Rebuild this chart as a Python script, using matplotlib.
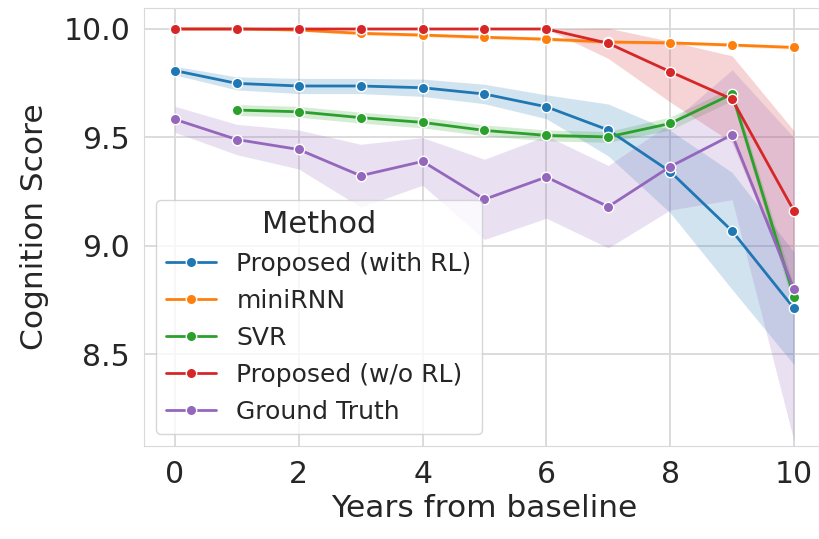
import numpy as np
import matplotlib
matplotlib.use("Agg")
import matplotlib.pyplot as plt
import seaborn as sns

# values
years = [0, 1, 2, 3, 4, 5, 6, 7, 8, 9, 10]
methods = ["Proposed (with RL)", "miniRNN", "SVR", "Proposed (w/o RL)", "Ground Truth"]

with_rl = [9.808, 9.749, 9.737, 9.737, 9.729, 9.700, 9.641, 9.534, 9.342, 9.068, 8.711]
minirnn = [10.0, 10.0, 9.995, 9.980, 9.972, 9.962, 9.953, 9.940, 9.936, 9.926, 9.915]
svr = [np.nan, 9.626, 9.618, 9.591, 9.569, 9.532, 9.509, 9.502, 9.564, 9.700, 8.764]
wo_rl = [10.0, 10.0, 10.0, 10.0, 10.0, 10.0, 10.0, 9.934, 9.803, 9.676, 9.160]
truth = [9.583, 9.490, 9.444, 9.323, 9.389, 9.214, 9.317, 9.180, 9.365, 9.512, 8.798]

# half widths of the shaded bands
with_rl_err = [0.02, 0.03, 0.035, 0.035, 0.04, 0.045, 0.055, 0.12, 0.19, 0.27, 0.26]
minirnn_err = [0.0, 0.0, 0.005, 0.008, 0.008, 0.008, 0.008, 0.008, 0.008, 0.008, 0.008]
svr_err = [np.nan, 0.025, 0.025, 0.025, 0.025, 0.025, 0.025, 0.025, 0.03, 0.03, 0.05]
wo_rl_err = [0.0, 0.0, 0.0, 0.0, 0.0, 0.0, 0.0, 0.07, 0.14, 0.2, 0.37]
truth_err = [0.06, 0.07, 0.09, 0.145, 0.11, 0.185, 0.19, 0.19, 0.2, 0.3, 0.7]

series = [with_rl, minirnn, svr, wo_rl, truth]
errors = [with_rl_err, minirnn_err, svr_err, wo_rl_err, truth_err]

sns.set_style("whitegrid")
plt.rcParams['font.family'] = ['DejaVu Sans']

fig = plt.figure(figsize=(8.19, 5.39), dpi=100)
# axes run a little past the right edge of the figure, as in the cropped reference
ax = fig.add_axes([0.1758, 0.1725, 0.8315, 0.8127])

colors = sns.color_palette("tab10")
x = np.array(years)
for i, name in enumerate(methods):
    y = np.array(series[i], dtype=float)
    e = np.array(errors[i], dtype=float)
    ax.plot(x, y, color=colors[i], lw=2, marker="o", markersize=7.5,
            markeredgecolor="white", markeredgewidth=1, label=name)
    ax.fill_between(x, y - e, y + e, color=colors[i], alpha=0.2, lw=0)

ax.set_xlim(-0.5, 10.5)
ax.set_ylim(8.0757, 10.097)
ax.set_xticks([0, 2, 4, 6, 8, 10])
ax.set_yticks([8.5, 9.0, 9.5, 10.0])
ax.tick_params(axis="both", labelsize=21.5, length=0, pad=10, labelcolor=".15")
ax.xaxis.grid(color=".85", lw=1.3)
ax.yaxis.grid(color=".85", lw=1.3)
ax.spines["top"].set_color(".85")
ax.spines["bottom"].set_color(".85")
ax.spines["left"].set_color(".85")
ax.spines["right"].set_visible(False)

ax.set_xlabel("Years from baseline", fontsize=22.5, color=".15", labelpad=4)
ax.set_ylabel("Cognition Score", fontsize=22.5, color=".15", labelpad=10)

leg = ax.legend(title="Method", loc="lower left", fontsize=18, title_fontsize=22,
                borderaxespad=0.5, labelspacing=0.52)
for t in leg.get_texts():
    t.set_color(".15")
leg.get_title().set_color(".15")

fig.savefig("out.png", dpi=100)
